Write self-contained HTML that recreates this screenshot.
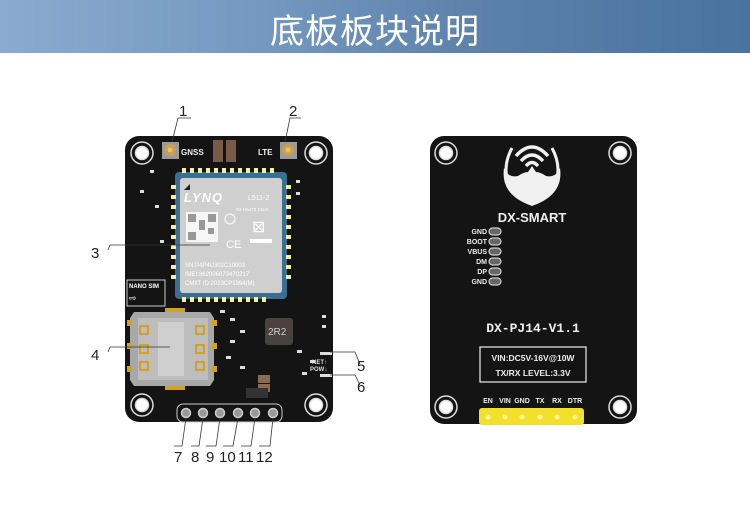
<!DOCTYPE html>
<html><head><meta charset="utf-8"><style>
html,body{margin:0;padding:0;background:#fff;}
body{width:750px;height:506px;overflow:hidden;position:relative;font-family:"Liberation Sans","Noto Sans CJK SC",sans-serif;}
.hdr{position:absolute;left:0;top:0;width:750px;height:53px;background:linear-gradient(90deg,#8aabcf 0%,#7498c0 35%,#5b80aa 65%,#4a73a0 100%);}
.hdr div{position:absolute;left:0;width:750px;top:4px;text-align:center;color:#fff;font-size:34px;letter-spacing:1px;font-family:"Noto Sans CJK SC",sans-serif;}
</style></head><body>
<div class="hdr"><div>底板板块说明</div></div>
<svg width="750" height="506" style="position:absolute;left:0;top:0" xmlns="http://www.w3.org/2000/svg" font-family="Liberation Sans, sans-serif">
<!-- LEFT BOARD -->
<rect x="125" y="136" width="208" height="286" rx="14" fill="#141414"/>
<g fill="#fff" stroke="#ddd" stroke-width="1.5">
<circle cx="142" cy="153" r="11" fill="#141414"/><circle cx="142" cy="153" r="6.5"/>
<circle cx="316" cy="153" r="11" fill="#141414"/><circle cx="316" cy="153" r="6.5"/>
<circle cx="142" cy="405" r="11" fill="#141414"/><circle cx="142" cy="405" r="6.5"/>
<circle cx="316" cy="405" r="11" fill="#141414"/><circle cx="316" cy="405" r="6.5"/>
</g>
<rect x="162" y="142" width="17" height="17" fill="#9a9a9a"/><circle cx="170" cy="150" r="6" fill="#c9a050"/><circle cx="170" cy="150" r="2.5" fill="#e8c070"/>
<rect x="280" y="142" width="17" height="17" fill="#9a9a9a"/><circle cx="288" cy="150" r="6" fill="#c9a050"/><circle cx="288" cy="150" r="2.5" fill="#e8c070"/>
<text x="181" y="155" font-size="8" fill="#eee" font-weight="bold">GNSS</text>
<text x="258" y="155" font-size="8" fill="#eee" font-weight="bold">LTE</text>
<rect x="213" y="140" width="10" height="22" fill="#7a5a48"/><rect x="226" y="140" width="10" height="22" fill="#7a5a48"/>
<rect x="175" y="172" width="112" height="127" rx="4" fill="#3a6f93"/>
<g fill="#f5f0a0">
<rect x="182" y="168" width="4" height="5"/><rect x="190" y="168" width="4" height="5"/><rect x="198" y="168" width="4" height="5"/><rect x="206" y="168" width="4" height="5"/><rect x="214" y="168" width="4" height="5"/><rect x="222" y="168" width="4" height="5"/><rect x="230" y="168" width="4" height="5"/><rect x="238" y="168" width="4" height="5"/><rect x="246" y="168" width="4" height="5"/><rect x="254" y="168" width="4" height="5"/><rect x="262" y="168" width="4" height="5"/><rect x="270" y="168" width="4" height="5"/>
<rect x="182" y="297" width="4" height="5"/><rect x="190" y="297" width="4" height="5"/><rect x="198" y="297" width="4" height="5"/><rect x="206" y="297" width="4" height="5"/><rect x="214" y="297" width="4" height="5"/><rect x="222" y="297" width="4" height="5"/><rect x="230" y="297" width="4" height="5"/><rect x="238" y="297" width="4" height="5"/><rect x="246" y="297" width="4" height="5"/><rect x="254" y="297" width="4" height="5"/><rect x="262" y="297" width="4" height="5"/>
<rect x="171" y="185" width="5" height="4"/><rect x="171" y="195" width="5" height="4"/><rect x="171" y="205" width="5" height="4"/><rect x="171" y="215" width="5" height="4"/><rect x="171" y="225" width="5" height="4"/><rect x="171" y="235" width="5" height="4"/><rect x="171" y="245" width="5" height="4"/><rect x="171" y="255" width="5" height="4"/><rect x="171" y="265" width="5" height="4"/><rect x="171" y="275" width="5" height="4"/>
<rect x="286" y="185" width="5" height="4"/><rect x="286" y="195" width="5" height="4"/><rect x="286" y="205" width="5" height="4"/><rect x="286" y="215" width="5" height="4"/><rect x="286" y="225" width="5" height="4"/><rect x="286" y="235" width="5" height="4"/><rect x="286" y="245" width="5" height="4"/><rect x="286" y="255" width="5" height="4"/><rect x="286" y="265" width="5" height="4"/><rect x="286" y="275" width="5" height="4"/>
</g>
<rect x="180" y="178" width="102" height="115" rx="3" fill="#cfcfcf"/>
<path d="M184 190 L190 184 L190 190 Z" fill="#222"/>
<text x="184" y="202" font-size="13" fill="#fff" font-style="italic" font-weight="bold" letter-spacing="1">LYNQ</text>
<text x="248" y="200" font-size="7" fill="#fff">L511-2</text>
<text x="236" y="211" font-size="4.5" fill="#fff">S2-H9473 CN-S</text>
<rect x="186" y="212" width="32" height="30" fill="#fff" opacity="0.8"/>
<g fill="#999"><rect x="188" y="214" width="8" height="8"/><rect x="208" y="214" width="8" height="8"/><rect x="188" y="232" width="8" height="8"/><rect x="199" y="220" width="6" height="10"/><rect x="208" y="228" width="6" height="6"/></g>
<circle cx="230" cy="219" r="5" fill="none" stroke="#fff"/>
<text x="226" y="248" font-size="11" fill="#fff">CE</text>
<text x="252" y="232" font-size="16" fill="#fff">⊠</text>
<rect x="250" y="239" width="22" height="4" fill="#fff"/>
<text x="185" y="267" font-size="6" fill="#fff">SN:P4P4U302C10003</text>
<text x="185" y="276" font-size="6" fill="#fff">IMEI:862006073470217</text>
<text x="185" y="285" font-size="6" fill="#fff">CMIIT ID:2023CP1994(M)</text>
<rect x="127" y="280" width="38" height="26" fill="none" stroke="#ccc" stroke-width="1"/>
<text x="129" y="288" font-size="6" fill="#fff" font-weight="bold">NANO SIM</text>
<text x="129" y="301" font-size="9" fill="#fff">⇨</text>
<rect x="165" y="308" width="20" height="6" fill="#d4a020"/>
<rect x="165" y="384" width="20" height="6" fill="#d4a020"/>
<path d="M134 312 L210 312 L214 318 L214 380 L210 386 L134 386 L130 380 L130 318 Z" fill="#a8a8a8"/>
<rect x="138" y="318" width="70" height="62" fill="#bdbdbd"/>
<rect x="158" y="322" width="26" height="54" fill="#cfcfcf"/>
<g fill="#d4a020"><rect x="127" y="320" width="5" height="6"/><rect x="127" y="343" width="5" height="6"/><rect x="127" y="366" width="5" height="6"/><rect x="212" y="320" width="5" height="6"/><rect x="212" y="343" width="5" height="6"/><rect x="212" y="366" width="5" height="6"/></g>
<g fill="none" stroke="#d4a020" stroke-width="2"><rect x="140" y="326" width="8" height="8"/><rect x="140" y="345" width="8" height="8"/><rect x="140" y="362" width="8" height="8"/><rect x="196" y="326" width="8" height="8"/><rect x="196" y="345" width="8" height="8"/><rect x="196" y="362" width="8" height="8"/></g>
<rect x="265" y="318" width="28" height="27" rx="3" fill="#4a4240"/>
<text x="268" y="335" font-size="10" fill="#ccc">2R2</text>
<rect x="258" y="375" width="12" height="8" fill="#8a6a50"/><rect x="258" y="384" width="12" height="8" fill="#8a6a50"/>
<rect x="246" y="388" width="22" height="10" fill="#333"/>
<g fill="#ddd">
<rect x="220" y="310" width="5" height="3"/><rect x="230" y="318" width="5" height="3"/><rect x="240" y="330" width="5" height="3"/><rect x="230" y="340" width="5" height="3"/><rect x="226" y="356" width="5" height="3"/><rect x="240" y="366" width="5" height="3"/><rect x="297" y="350" width="5" height="3"/><rect x="310" y="360" width="5" height="3"/><rect x="302" y="372" width="5" height="3"/><rect x="322" y="315" width="4" height="3"/><rect x="322" y="325" width="4" height="3"/><rect x="150" y="170" width="4" height="3"/><rect x="140" y="190" width="4" height="3"/><rect x="155" y="205" width="4" height="3"/><rect x="160" y="240" width="4" height="3"/><rect x="296" y="180" width="4" height="3"/><rect x="296" y="192" width="4" height="3"/>
</g>
<rect x="320" y="352" width="12" height="3" fill="#ddd"/><rect x="320" y="374" width="12" height="3" fill="#ddd"/>
<text x="312" y="364" font-size="6" fill="#ddd" font-weight="bold">NET↑</text>
<text x="310" y="371" font-size="6" fill="#ddd" font-weight="bold">POW↓</text>
<rect x="177" y="404" width="105" height="18" rx="6" fill="none" stroke="#ccc" stroke-width="1"/>
<g fill="#999" stroke="#ccc" stroke-width="1.5">
<circle cx="186" cy="413" r="4.5"/><circle cx="203" cy="413" r="4.5"/><circle cx="220" cy="413" r="4.5"/><circle cx="238" cy="413" r="4.5"/><circle cx="255" cy="413" r="4.5"/><circle cx="273" cy="413" r="4.5"/>
</g>
<g stroke="#333" stroke-width="0.8" fill="none">
<path d="M172 142 L178 118 L191 118"/>
<path d="M285 142 L290 118 L301 118"/>
<path d="M108 250 L110 245 L210 245"/>
<path d="M108 352 L110 347 L170 347"/>
<path d="M330 352 L355 352 L360 364"/>
<path d="M330 375 L355 375 L360 385"/>
<path d="M186 418 L182 446 L174 446"/>
<path d="M203 418 L199 446 L191 446"/>
<path d="M220 418 L216 446 L206 446"/>
<path d="M238 418 L233 446 L223 446"/>
<path d="M255 418 L251 446 L241 446"/>
<path d="M273 418 L270 446 L259 446"/>
</g>
<g font-size="15" fill="#222">
<text x="179" y="116">1</text><text x="289" y="116">2</text>
<text x="91" y="258">3</text><text x="91" y="360">4</text>
<text x="357" y="371">5</text><text x="357" y="392">6</text>
<text x="174" y="462">7</text><text x="191" y="462">8</text><text x="206" y="462">9</text>
<text x="219" y="462">10</text><text x="238" y="462">11</text><text x="256" y="462">12</text>
</g>
<!-- RIGHT BOARD -->
<rect x="430" y="136" width="207" height="288" rx="14" fill="#141414"/>
<g fill="#fff" stroke="#ddd" stroke-width="1.5">
<circle cx="446" cy="153" r="11" fill="#141414"/><circle cx="446" cy="153" r="6.5"/>
<circle cx="620" cy="153" r="11" fill="#141414"/><circle cx="620" cy="153" r="6.5"/>
<circle cx="446" cy="407" r="11" fill="#141414"/><circle cx="446" cy="407" r="6.5"/>
<circle cx="620" cy="407" r="11" fill="#141414"/><circle cx="620" cy="407" r="6.5"/>
</g>
<!-- logo -->
<path d="M504 168 Q500 195 532 206 Q564 195 560 168 Q556 178 546 176 Q540 172 536 172 L532 166 L528 172 Q524 172 518 176 Q508 178 504 168 Z" fill="#f0f0f0"/>
<path d="M512 148 Q500 170 512 192" fill="none" stroke="#f0f0f0" stroke-width="3"/>
<path d="M552 148 Q564 170 552 192" fill="none" stroke="#f0f0f0" stroke-width="3"/>
<path d="M516 156 Q532 138 548 156" fill="none" stroke="#f0f0f0" stroke-width="3.5"/>
<path d="M521 161 Q532 149 543 161" fill="none" stroke="#f0f0f0" stroke-width="3.5"/>
<path d="M526 166 Q532 159 538 166" fill="none" stroke="#f0f0f0" stroke-width="3.5"/>
<text x="532" y="222" font-size="13" font-weight="bold" fill="#eee" text-anchor="middle">DX-SMART</text>
<g font-size="7" fill="#eee" text-anchor="end" font-weight="bold">
<text x="487" y="234">GND</text><text x="487" y="244">BOOT</text><text x="487" y="254">VBUS</text><text x="487" y="264">DM</text><text x="487" y="274">DP</text><text x="487" y="284">GND</text>
</g>
<g fill="#666" stroke="#ccc" stroke-width="1.2">
<rect x="489" y="228" width="12" height="7" rx="3.5"/><rect x="489" y="238" width="12" height="7" rx="3.5"/><rect x="489" y="248" width="12" height="7" rx="3.5"/><rect x="489" y="258" width="12" height="7" rx="3.5"/><rect x="489" y="268" width="12" height="7" rx="3.5"/><rect x="489" y="278" width="12" height="7" rx="3.5"/>
</g>
<text x="533" y="332" font-size="13" fill="#eee" text-anchor="middle" font-family="Liberation Mono, monospace" font-weight="bold">DX-PJ14-V1.1</text>
<rect x="480" y="347" width="106" height="35" fill="none" stroke="#eee" stroke-width="1.2"/>
<text x="533" y="361" font-size="8.5" fill="#eee" text-anchor="middle" font-weight="bold">VIN:DC5V-16V@10W</text>
<text x="533" y="376" font-size="8.5" fill="#eee" text-anchor="middle" font-weight="bold">TX/RX LEVEL:3.3V</text>
<g font-size="7" fill="#eee" text-anchor="middle" font-weight="bold">
<text x="488" y="403">EN</text><text x="505" y="403">VIN</text><text x="522" y="403">GND</text><text x="540" y="403">TX</text><text x="557" y="403">RX</text><text x="575" y="403">DTR</text>
</g>
<rect x="479" y="408" width="105" height="17" rx="3" fill="#f2e02a"/>
<g fill="#fff59a"><circle cx="488" cy="417" r="2.5"/><circle cx="505" cy="417" r="2.5"/><circle cx="522" cy="417" r="2.5"/><circle cx="540" cy="417" r="2.5"/><circle cx="557" cy="417" r="2.5"/><circle cx="575" cy="417" r="2.5"/></g>
</svg>
</body></html>
